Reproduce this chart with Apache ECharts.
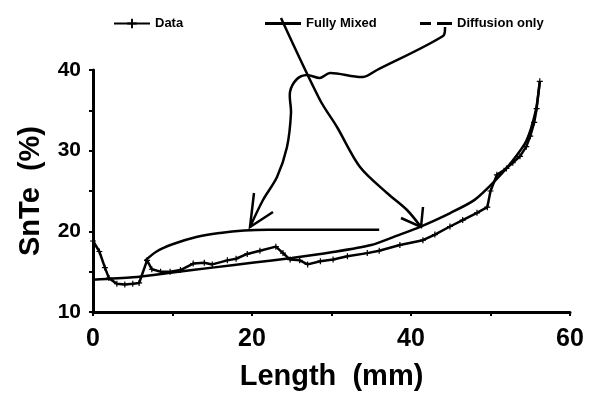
<!DOCTYPE html>
<html><head><meta charset="utf-8">
<script src="https://cdn.jsdelivr.net/npm/echarts@6/dist/echarts.min.js"></script>
<style>html,body{margin:0;padding:0;background:#fff}#c{width:595px;height:404px}</style>
</head><body><div id="c"></div>
<script>
// ---- data ----
const dataX = [0,0.8,1.5,2,3,4,5,5.8,6.8,7.4,8.5,9.7,11,12.6,14,15,16.9,18,19.4,21,23,23.9,24.8,26,27,28.6,30.2,32,34.5,36,38.6,41.5,43,44.9,46.5,48.3,49.6,50,50.8,52,52.8,53.7,54.5,55,55.5,55.8,56.2];
const dataY = [18.8,17.5,15.5,14.2,13.5,13.4,13.5,13.6,16.4,15.3,15.0,15.0,15.2,16.0,16.1,15.9,16.4,16.6,17.2,17.6,18.1,17.3,16.5,16.4,15.9,16.3,16.5,16.9,17.3,17.6,18.3,18.9,19.6,20.6,21.4,22.3,23.0,25.0,27.0,27.8,28.5,29.3,30.5,31.8,33.5,35.2,38.6];
const mixedX = [0,5,10,15,20,25,30,35,38.6,41,45,48,50.5,52.5,54.5,55.7,56.2];
const mixedY = [14.0,14.3,14.9,15.5,16.1,16.7,17.4,18.3,19.6,20.5,22.3,23.9,26.2,28.4,31.2,35.0,38.6];
const diffX = [6.5,8,10,13,16,19,22,29,36];
const diffY = [16.3,17.5,18.4,19.3,19.8,20.1,20.2,20.2,20.2];
const xTicks = {min:0, max:60, step:10, labelEvery:20};
const yTicks = {min:10, max:40, step:5, labelEvery:10};
const names = ['Data','Fully Mixed','Diffusion only'];

// annotation arrows (hand-drawn in the figure), pixel positions
const arrowMixed = [[281,18],[320,100],[337,127],[360,167],[387,193],[407,210],[421,227]];
const arrowMixedHead = [[423,207],[421,227],[401,218]];
const arrowDiff = [[445,27],[443,36],[377,70],[363,77],[330,73],[320,78],[307,75],[297,79],[290,92],[291,113],[287,147],[277,177],[263,200],[250,227]];
const arrowDiffHead = [[254,193],[250,227],[273,212]];

const zip = (a,b)=>a.map((v,i)=>[v,b[i]]);
const font = '"Liberation Sans", Arial, sans-serif';
const plus = 'path://M-1,-5L1,-5L1,-1L5,-1L5,1L1,1L1,5L-1,5L-1,1L-5,1L-5,-1L-1,-1Z';
const solidIcon = 'path://M0,0L36,0L36,3L0,3Z';
const dashIcon = 'path://M0,0L11,0L11,3L0,3Z M17,0L32,0L32,3L17,3Z';
const chart = echarts.init(document.getElementById('c'));
const legendText = {color:'#000', fontFamily:font, fontWeight:'bold', fontSize:13};
function poly(points, smooth){
  return {type:'polyline', shape:{points:points, smooth:smooth}, style:{stroke:'#000', lineWidth:2.5, fill:null}, z:100};
}
chart.setOption({
  animation:false,
  backgroundColor:'#fff',
  grid:{left:93, right:25, top:70, bottom:92},
  legend:[
    {data:[{name:names[0]}], left:108, top:12, itemWidth:36, itemHeight:12, itemGap:4, textStyle:legendText},
    {data:[{name:names[1], icon:solidIcon}], left:260, top:12, itemWidth:36, itemHeight:3, itemGap:4, textStyle:legendText},
    {data:[{name:names[2], icon:dashIcon}], left:415, top:12, itemWidth:32, itemHeight:3, itemGap:4, textStyle:legendText}
  ],
  xAxis:{type:'value', min:xTicks.min, max:xTicks.max, interval:xTicks.step,
    name:'Length  (mm)', nameLocation:'middle', nameGap:50,
    nameTextStyle:{color:'#000', fontFamily:font, fontWeight:'bold', fontSize:29},
    axisLine:{lineStyle:{color:'#000', width:3}},
    axisTick:{show:true, length:4, lineStyle:{color:'#000', width:2}},
    splitLine:{show:false},
    axisLabel:{color:'#000', fontFamily:font, fontWeight:'bold', fontSize:25, margin:15,
      formatter:v=> v % xTicks.labelEvery === 0 ? String(v) : ''}},
  yAxis:{type:'value', min:yTicks.min, max:yTicks.max, interval:yTicks.step,
    name:'SnTe  (%)', nameLocation:'middle', nameGap:48, nameRotate:90,
    nameTextStyle:{color:'#000', fontFamily:font, fontWeight:'bold', fontSize:29},
    axisLine:{show:true, lineStyle:{color:'#000', width:3}},
    axisTick:{show:true, length:4, lineStyle:{color:'#000', width:2}},
    splitLine:{show:false},
    axisLabel:{color:'#000', fontFamily:font, fontWeight:'bold', fontSize:21, margin:12,
      formatter:v=> v % yTicks.labelEvery === 0 ? String(v) : ''}},
  series:[
    {name:names[0], type:'line', data:zip(dataX,dataY), symbol:plus, symbolSize:6, showSymbol:true,
      lineStyle:{color:'#000', width:2.5}, itemStyle:{color:'#000'}},
    {name:names[1], type:'line', data:zip(mixedX,mixedY), symbol:'none', smooth:0.25,
      lineStyle:{color:'#000', width:2.5}, itemStyle:{color:'#000'}},
    {name:names[2], type:'line', data:zip(diffX,diffY), symbol:'none', smooth:0.35,
      lineStyle:{color:'#000', width:2.5}, itemStyle:{color:'#000'}}
  ],
  graphic:[poly(arrowMixed,0.3), poly(arrowMixedHead,0), poly(arrowDiff,0.3), poly(arrowDiffHead,0)]
});
</script></body></html>
